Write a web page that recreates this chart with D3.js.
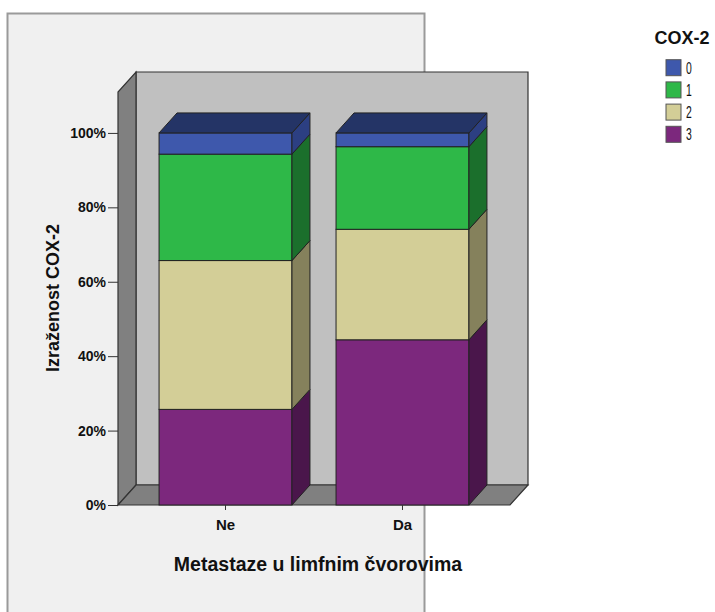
<!DOCTYPE html>
<html>
<head>
<meta charset="utf-8">
<script src="https://cdn.jsdelivr.net/npm/d3@7/dist/d3.min.js"></script>
<style>
  html, body { margin: 0; padding: 0; background: #ffffff; }
  svg { display: block; }
  text { font-family: "Liberation Sans", Arial, sans-serif; fill: #111; }
</style>
</head>
<body>
<svg id="chart" width="715" height="612"></svg>
<script>
// Categories on the x axis
const categories = ["Ne", "Da"];
// COX-2 expression levels (legend order)
const levels = ["0", "1", "2", "3"];
// Percent of cases per level, one value per category
const cox0 = [5.7, 3.7];
const cox1 = [28.6, 22.2];
const cox2 = [40.0, 29.7];
const cox3 = [25.7, 44.4];
// Y axis tick values (fractions)
const yTicks = [0, 0.2, 0.4, 0.6, 0.8, 1.0];

const seriesByLevel = { "0": cox0, "1": cox1, "2": cox2, "3": cox3 };
const fillFront = { "0": "#3e58ac", "1": "#2eb848", "2": "#d3ce97", "3": "#7c287d" };
const fillSide  = { "0": "#2c3f82", "1": "#1b6f2c", "2": "#85815c", "3": "#4a164b" };
const fillTop   = { "0": "#243466", "1": "#1f7a33", "2": "#a39f70", "3": "#5a1c5b" };

const svg = d3.select("#chart");

// Outer chart frame
svg.append("rect")
  .attr("x", 7.5).attr("y", 13.5).attr("width", 417).attr("height", 640)
  .attr("fill", "#f0f0f0").attr("stroke", "#9a9a9a").attr("stroke-width", 2);

// 3D geometry
const dx = 18, dy = 20;
const left = 118, right = 510, bottom = 505;
const wallTop = 1.11;

const x = d3.scaleBand().domain(categories).range([left, right])
  .paddingInner(0.249).paddingOuter(0.232);
const y = d3.scaleLinear().domain([0, wallTop]).range([bottom, 92]);

const edge = "#333";
const g = svg.append("g");
const poly = pts => pts.map(p => p.join(",")).join(" ");

// Back wall
g.append("polygon")
  .attr("points", poly([[left + dx, y(wallTop) - dy], [right + dx, y(wallTop) - dy],
                        [right + dx, bottom - dy], [left + dx, bottom - dy]]))
  .attr("fill", "#c0c0c0").attr("stroke", edge).attr("stroke-width", 1.2);
// Left side wall
g.append("polygon")
  .attr("points", poly([[left, bottom], [left, y(wallTop)], [left + dx, y(wallTop) - dy],
                        [left + dx, bottom - dy]]))
  .attr("fill", "#808080").attr("stroke", edge).attr("stroke-width", 1.2);
// Floor
g.append("polygon")
  .attr("points", poly([[left, bottom], [left + dx, bottom - dy], [right + dx, bottom - dy],
                        [right, bottom]]))
  .attr("fill", "#808080").attr("stroke", edge).attr("stroke-width", 1.2);

// Stacked bars: level 3 at the bottom, level 0 on top
const stackOrder = ["3", "2", "1", "0"];
categories.forEach((cat, i) => {
  const x0 = x(cat), x1 = x0 + x.bandwidth();
  let acc = 0;
  const bg = g.append("g");
  stackOrder.forEach(lv => {
    const v = seriesByLevel[lv][i] / 100;
    const yb = y(acc), yt = y(acc + v);
    acc += v;
    bg.append("rect")
      .attr("x", x0).attr("y", yt).attr("width", x1 - x0).attr("height", yb - yt)
      .attr("fill", fillFront[lv]).attr("stroke", "#222").attr("stroke-width", 1);
    bg.append("polygon")
      .attr("points", poly([[x1, yt], [x1 + dx, yt - dy], [x1 + dx, yb - dy], [x1, yb]]))
      .attr("fill", fillSide[lv]).attr("stroke", "#222").attr("stroke-width", 1);
  });
  const topLv = stackOrder[stackOrder.length - 1];
  const yt = y(acc);
  bg.append("polygon")
    .attr("points", poly([[x0, yt], [x0 + dx, yt - dy], [x1 + dx, yt - dy], [x1, yt]]))
    .attr("fill", fillTop[topLv]).attr("stroke", "#222").attr("stroke-width", 1);
});

// Y axis
const yAxis = svg.append("g").attr("transform", `translate(${left},0)`)
  .call(d3.axisLeft(y).tickValues(yTicks).tickFormat(d3.format(".0%"))
    .tickSize(10).tickSizeOuter(0).tickPadding(2));
yAxis.select(".domain").remove();
yAxis.selectAll(".tick line").attr("stroke", "#333");
yAxis.selectAll("text").style("font-size", "14px").style("font-weight", "bold")
  .style("font-family", "'Liberation Sans', Arial, sans-serif").attr("fill", "#333");

// X axis
const xAxis = svg.append("g").attr("transform", `translate(0,${bottom})`)
  .call(d3.axisBottom(x).tickSize(5).tickSizeOuter(0).tickPadding(9));
xAxis.select(".domain").remove();
xAxis.selectAll(".tick line").attr("stroke", "#333");
xAxis.selectAll("text").style("font-size", "15px").style("font-weight", "bold")
  .style("font-family", "'Liberation Sans', Arial, sans-serif").attr("fill", "#222");

// Axis titles
svg.append("text")
  .attr("x", 318).attr("y", 571).attr("text-anchor", "middle")
  .style("font-size", "19.5px").style("font-weight", "bold")
  .text("Metastaze u limfnim čvorovima");
svg.append("text")
  .attr("transform", "translate(59,298) rotate(-90)").attr("text-anchor", "middle")
  .style("font-size", "18px").style("font-weight", "bold")
  .text("Izraženost COX-2");

// Legend
const lg = svg.append("g");
lg.append("text").attr("x", 682).attr("y", 44).attr("text-anchor", "middle")
  .style("font-size", "18px").style("font-weight", "bold").text("COX-2");
levels.forEach((lv, i) => {
  const cy = 67.7 + i * 22.2;
  lg.append("rect").attr("x", 666).attr("y", cy - 8).attr("width", 15).attr("height", 16)
    .attr("fill", fillFront[lv]).attr("stroke", "#555").attr("stroke-width", 1);
  lg.append("text")
    .attr("transform", `translate(686,${cy + 6}) scale(0.65,1)`)
    .style("font-size", "16px").text(lv);
});
</script>
</body>
</html>
